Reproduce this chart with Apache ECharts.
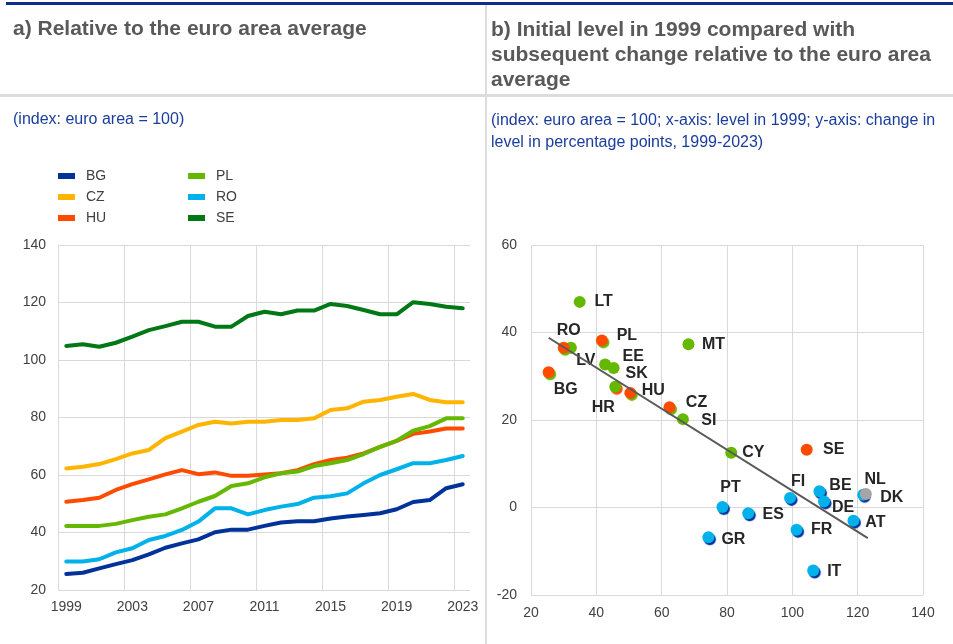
<!DOCTYPE html>
<html>
<head>
<meta charset="utf-8">
<script src="https://cdn.jsdelivr.net/npm/echarts@6/dist/echarts.min.js"></script>
<style>
  html, body { margin: 0; padding: 0; background: #fff; }
  #chart { width: 953px; height: 644px; }
</style>
</head>
<body>
<div id="chart"></div>
<script>
// panel a) index, euro area = 100
const years = ['1999', '2000', '2001', '2002', '2003', '2004', '2005', '2006', '2007', '2008', '2009', '2010', '2011',
    '2012', '2013', '2014', '2015', '2016', '2017', '2018', '2019', '2020', '2021', '2022', '2023'];
const bg = [25.6, 26.0, 27.5, 29.0, 30.4, 32.4, 34.7, 36.2, 37.6, 40.1, 41.0, 41.0, 42.3, 43.5, 43.9, 43.9, 44.9, 45.6, 46.1, 46.7, 48.1, 50.6, 51.3, 55.4, 56.8];
const cz = [62.3, 62.9, 63.8, 65.5, 67.5, 68.7, 72.8, 75.1, 77.4, 78.5, 77.9, 78.5, 78.5, 79.1, 79.1, 79.7, 82.6, 83.2, 85.5, 86.1, 87.2, 88.2, 86.1, 85.3, 85.3];
const hu = [50.7, 51.3, 52.1, 54.8, 56.8, 58.5, 60.2, 61.7, 60.3, 60.9, 59.7, 59.7, 60.2, 60.6, 61.7, 63.8, 65.2, 66.0, 67.5, 69.8, 71.9, 74.3, 75.1, 76.2, 76.2];
const pl = [42.3, 42.3, 42.3, 43.0, 44.3, 45.5, 46.3, 48.4, 50.7, 52.7, 56.2, 57.1, 59.2, 60.6, 61.2, 63.1, 64.1, 65.2, 67.3, 69.8, 71.9, 75.4, 77.0, 79.7, 79.7];
const ro = [29.9, 29.9, 30.7, 33.1, 34.5, 37.4, 38.8, 40.9, 43.8, 48.4, 48.4, 46.3, 47.8, 49.0, 49.9, 52.1, 52.6, 53.6, 57.1, 60.0, 62.0, 64.1, 64.1, 65.2, 66.6];
const se = [104.9, 105.5, 104.6, 106.0, 108.1, 110.4, 111.8, 113.3, 113.3, 111.6, 111.6, 115.3, 116.8, 115.9, 117.2, 117.2, 119.5, 118.8, 117.4, 115.9, 115.9, 120.1, 119.5, 118.5, 118.0];

// panel b) level in 1999 vs change 1999-2023
const countries = ['LT', 'LV', 'EE', 'SK', 'HR', 'SI', 'MT', 'CY',
    'RO', 'PL', 'BG', 'HU', 'CZ', 'SE',
    'PT', 'ES', 'GR', 'FI', 'FR', 'IT', 'BE', 'DE', 'AT', 'NL', 'DK'];
const level1999 = [34.9, 32.2, 42.7, 45.3, 45.8, 66.5, 68.2, 81.3,
    30.0, 41.7, 25.4, 50.4, 62.4, 104.4,
    78.6, 86.5, 74.3, 99.3, 101.3, 106.4, 108.3, 109.7, 118.7, 121.7, 122.5];
const change = [47.0, 36.5, 32.7, 31.9, 27.6, 20.2, 37.3, 12.5,
    36.5, 38.2, 30.9, 26.2, 22.9, 13.2,
    0.1, -1.3, -6.8, 2.2, -5.1, -14.4, 3.7, 1.4, -3.0, 2.9, 3.1];
const groups = ['euro', 'euro', 'euro', 'euro', 'euro', 'euro', 'euro', 'euro',
    'non', 'non', 'non', 'non', 'non', 'non',
    'old', 'old', 'old', 'old', 'old', 'old', 'old', 'old', 'old', 'old', 'dk'];
const trendX = [25.4, 123.1];
const trendY = [38.8, -7.0];

// label centre offsets from the dot, px
const labelOffset = {
    LT: [24, 0], LV: [15, 13], EE: [28, -8], SK: [23, 6], HR: [-12, 21], SI: [26, 1], MT: [25, 0], CY: [22, 0],
    RO: [5, -17], PL: [25, -5], BG: [17, 17], HU: [23, -2], CZ: [27, -5], SE: [27, 0],
    PT: [8, -19], ES: [25, 1], GR: [25, 2], FI: [8, -16], FR: [25, 0], IT: [21, 1], BE: [21, -6], DE: [19, 6],
    AT: [22, 2], NL: [12, -15], DK: [26, 4]
};

const FONT = 'Liberation Sans, Arial, sans-serif';
const lineColors = { BG: '#003299', CZ: '#ffb400', HU: '#ff4b00', PL: '#65b800', RO: '#00b1ea', SE: '#007816' };
const dotColors = { euro: '#65b800', non: '#ff4b00', old: '#00b1ea', dk: '#a5a5a5' };
const shadowColors = { euro: null, non: '#65b800', old: '#003299', dk: null };

let chart = echarts.init(document.getElementById('chart'));

function lineSeries(name, data) {
    return {
        name: name,
        type: 'line',
        xAxisIndex: 0,
        yAxisIndex: 0,
        data: data,
        symbol: 'none',
        lineStyle: { width: 4, color: lineColors[name], cap: 'round', join: 'round' },
        itemStyle: { color: lineColors[name] }
    };
}

function scatterSeries(group) {
    let data = [];
    countries.forEach((c, i) => {
        if (groups[i] !== group) return;
        let sc = shadowColors[group];
        if (c === 'SE') sc = null;
        if (c === 'HR') sc = '#ff4b00';
        data.push({
            name: c,
            value: [level1999[i], change[i]],
            itemStyle: sc ? { shadowColor: sc, shadowBlur: 1, shadowOffsetX: 1.5, shadowOffsetY: 2 } : {},
            label: { offset: labelOffset[c] }
        });
    });
    return {
        type: 'scatter',
        xAxisIndex: 1,
        yAxisIndex: 1,
        symbolSize: 12,
        itemStyle: { color: dotColors[group], opacity: 1 },
        label: {
            show: true,
            position: 'inside',
            align: 'center',
            verticalAlign: 'middle',
            formatter: '{b}',
            color: '#262626',
            fontSize: 16,
            fontWeight: 'bold',
            fontFamily: FONT
        },
        data: data
    };
}

const axisText = { color: '#404040', fontSize: 14, fontFamily: FONT };
const gridLine = { show: true, lineStyle: { color: '#d9d9d9', width: 1 } };
const legendText = { color: '#404040', fontSize: 14, fontFamily: FONT, padding: [0, 0, 0, 6] };

let option = {
    backgroundColor: '#fff',
    animation: false,
    title: [
        {
            text: 'a) Relative to the euro area average',
            left: 8, top: 14,
            textStyle: { color: '#595959', fontSize: 21, fontWeight: 'bold', fontFamily: FONT }
        },
        {
            text: 'b) Initial level in 1999 compared with\nsubsequent change relative to the euro area\naverage',
            left: 486, top: 13,
            textStyle: { color: '#595959', fontSize: 21, fontWeight: 'bold', fontFamily: FONT, lineHeight: 25 }
        },
        {
            text: '(index: euro area = 100)',
            left: 8, top: 107,
            textStyle: { color: '#1a3d9c', fontSize: 16, fontWeight: 'normal', fontFamily: FONT }
        },
        {
            text: '(index: euro area = 100; x-axis: level in 1999; y-axis: change in\nlevel in percentage points, 1999-2023)',
            left: 486, top: 105,
            textStyle: { color: '#1a3d9c', fontSize: 16, fontWeight: 'normal', fontFamily: FONT, lineHeight: 22 }
        }
    ],
    legend: [
        {
            data: ['BG', 'CZ', 'HU'],
            orient: 'vertical',
            left: 53, top: 164,
            icon: 'rect',
            itemWidth: 17, itemHeight: 6, itemGap: 7,
            textStyle: legendText
        },
        {
            data: ['PL', 'RO', 'SE'],
            orient: 'vertical',
            left: 183, top: 164,
            icon: 'rect',
            itemWidth: 17, itemHeight: 6, itemGap: 7,
            textStyle: legendText
        }
    ],
    grid: [
        { left: 58, right: 482, top: 245, bottom: 54 },
        { left: 531, right: 30, top: 245, bottom: 49 }
    ],
    xAxis: [
        {
            gridIndex: 0,
            type: 'category',
            data: years,
            boundaryGap: true,
            axisLine: { show: false },
            axisTick: { show: false },
            axisLabel: { ...axisText, interval: 3, margin: 10 },
            splitLine: { ...gridLine, interval: (i) => i % 4 === 0 && i < years.length }
        },
        {
            gridIndex: 1,
            type: 'value',
            min: 20, max: 140, interval: 20,
            axisLine: { show: false },
            axisTick: { show: false },
            axisLabel: { ...axisText, margin: 11 },
            splitLine: gridLine
        }
    ],
    yAxis: [
        {
            gridIndex: 0,
            type: 'value',
            min: 20, max: 140, interval: 20,
            axisLine: { show: false },
            axisTick: { show: false },
            axisLabel: { ...axisText, margin: 12 },
            splitLine: gridLine
        },
        {
            gridIndex: 1,
            type: 'value',
            min: -20, max: 60, interval: 20,
            axisLine: { show: false },
            axisTick: { show: false },
            axisLabel: { ...axisText, margin: 14 },
            splitLine: gridLine
        }
    ],
    series: [
        lineSeries('BG', bg),
        lineSeries('CZ', cz),
        lineSeries('HU', hu),
        lineSeries('PL', pl),
        lineSeries('RO', ro),
        lineSeries('SE', se),
        scatterSeries('euro'),
        scatterSeries('non'),
        scatterSeries('old'),
        scatterSeries('dk'),
        {
            type: 'line',
            xAxisIndex: 1,
            yAxisIndex: 1,
            data: trendX.map((x, i) => [x, trendY[i]]),
            symbol: 'none',
            z: 5,
            lineStyle: { color: '#595959', width: 2 }
        }
    ],
    graphic: [
        { type: 'rect', shape: { x: 6, y: 2, width: 947, height: 3 }, style: { fill: '#0b2e8f' } },
        { type: 'rect', shape: { x: 0, y: 94, width: 953, height: 3 }, style: { fill: '#dcdcdc' } },
        { type: 'rect', shape: { x: 485, y: 5, width: 2, height: 639 }, style: { fill: '#dcdcdc' } },
        // no frame line on the right edge of panel a)
        { type: 'rect', z: 100, shape: { x: 470, y: 244, width: 3, height: 347 }, style: { fill: '#fff' } }
    ]
};

chart.setOption(option);
window.addEventListener('resize', function () {
    chart.resize();
});
</script>
</body>
</html>
